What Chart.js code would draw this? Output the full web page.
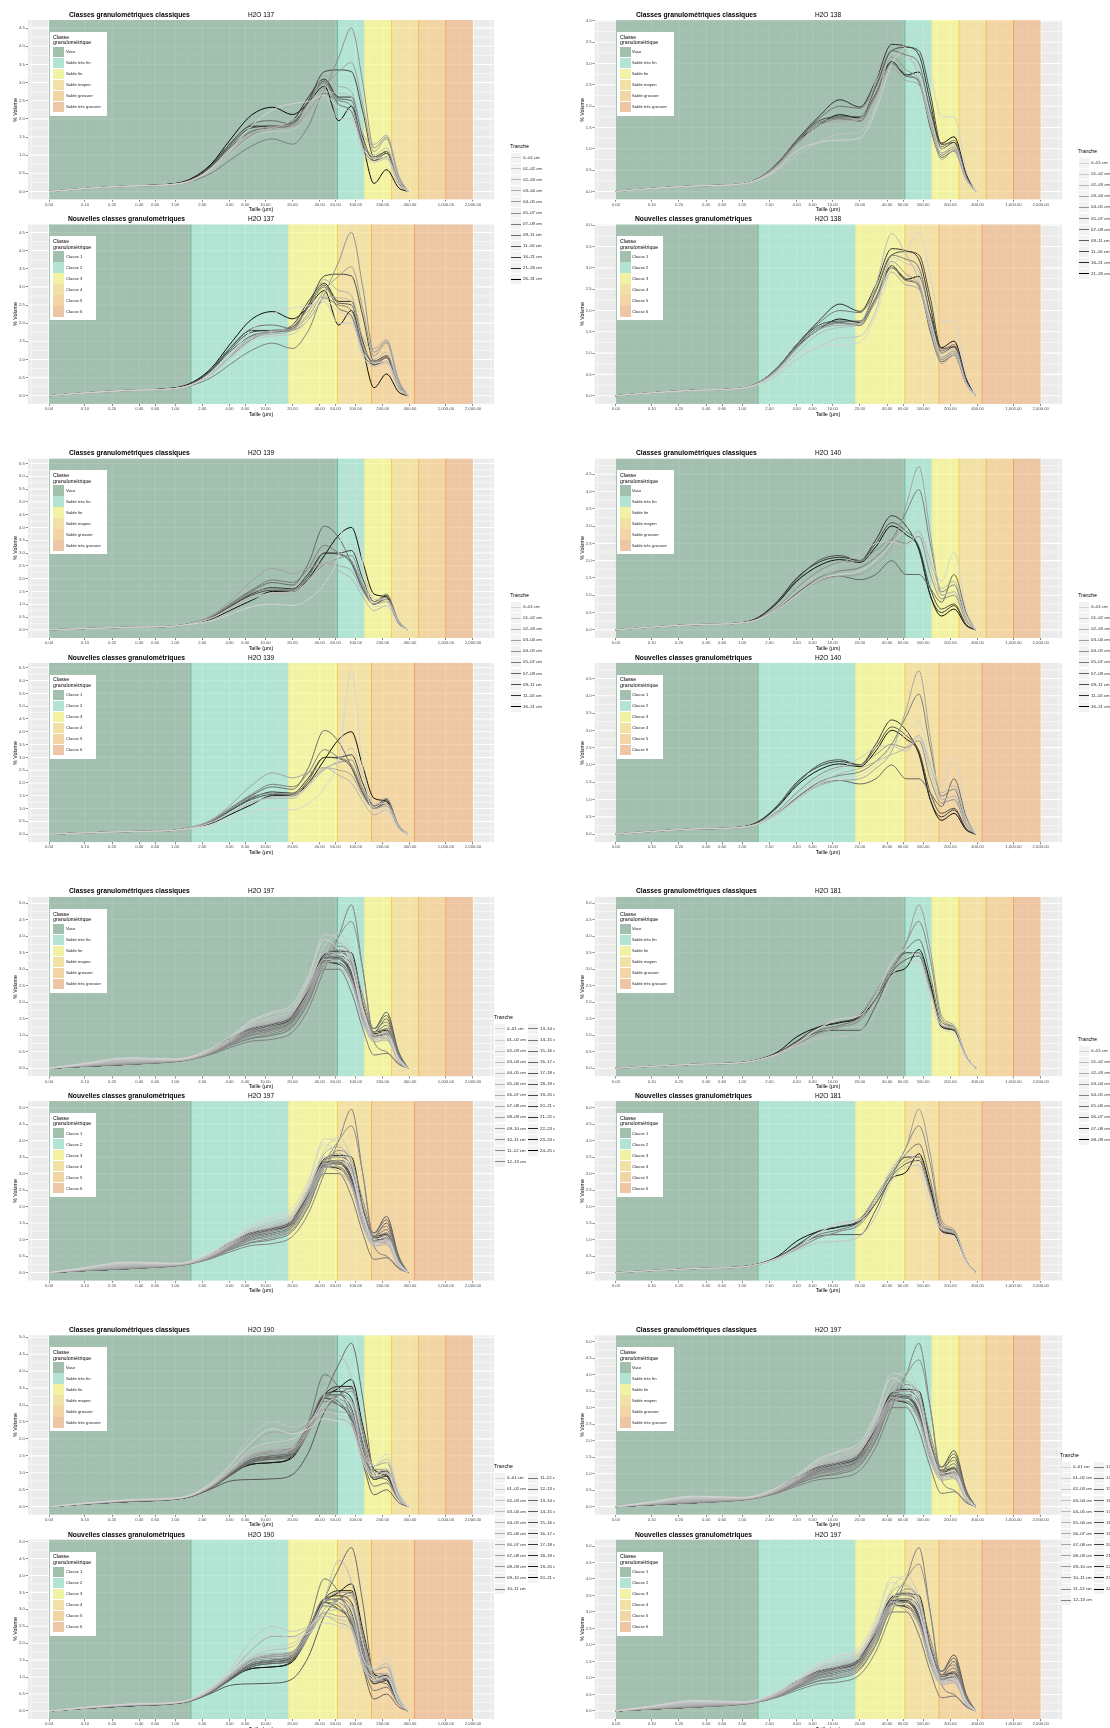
<!DOCTYPE html>
<html>
<head>
<meta charset="utf-8">
<script src="https://cdn.jsdelivr.net/npm/chart.js@4/dist/chart.umd.min.js"></script>
<style>
  body { margin: 0; width: 1110px; height: 1728px; background: #fff; position: relative; overflow: hidden;
         font-family: "Liberation Sans", Arial, sans-serif; }
  .grp { position: absolute; top: 0; width: 555px; height: 1728px; overflow: hidden; }
  .grp canvas { position: absolute; }
  .t { position: absolute; white-space: nowrap; font-size: 10px; line-height: 12px; transform-origin: 0 0; }
  .box { position: absolute; }
</style>
</head>
<body>
<script>
// grain sizes (µm) at which the curves were read
var sizes = [0.04, 0.1, 0.3, 1, 1.5, 2.5, 4, 7, 12, 20, 30, 45, 65, 90, 120, 160, 220, 300, 380];
var xTicks = [0.04, 0.1, 0.2, 0.4, 0.6, 1, 2, 4, 6, 10, 20, 40, 60, 100, 200, 400, 1000, 2000];

var classicLimits = [0.04, 63, 125, 250, 500, 1000, 2000];
var classicNames = ['Vase', 'Sable très fin', 'Sable fin', 'Sable moyen', 'Sable grossier', 'Sable très grossier'];
var newLimits = [0.04, 1.5, 18, 63, 150, 450, 2000];
var newNames = ['Classe 1', 'Classe 2', 'Classe 3', 'Classe 4', 'Classe 5', 'Classe 6'];

// % volume per tranche, one row per tranche, one value per size above
var h137 = [
  [0,0.08,0.15,0.2,0.3,0.62,1.1,1.8,2.25,2.42,2.48,2.65,2.3,2.1,1.2,0.9,0.95,0.25,0],
  [0,0.07,0.14,0.2,0.29,0.58,1.0,1.5,1.65,1.7,2.1,2.6,2.0,2.0,1.1,0.8,0.9,0.2,0],
  [0,0.08,0.15,0.2,0.3,0.6,1.05,1.6,1.75,1.95,2.35,2.75,2.7,2.6,1.4,1.0,1.2,0.3,0],
  [0,0.08,0.15,0.2,0.3,0.62,1.1,1.6,1.7,1.8,2.3,3.2,2.9,2.75,1.6,1.3,1.55,0.45,0],
  [0,0.08,0.15,0.2,0.3,0.6,1.1,1.6,1.8,1.85,2.2,2.9,3.3,3.55,2.4,1.1,1.45,0.4,0],
  [0,0.08,0.14,0.2,0.3,0.6,1.05,1.55,1.75,1.8,2.1,2.8,3.7,4.5,3.0,1.2,1.5,0.4,0],
  [0,0.07,0.14,0.2,0.28,0.5,0.85,1.25,1.45,1.3,1.8,2.7,2.5,2.35,1.3,0.95,1.1,0.25,0],
  [0,0.08,0.15,0.21,0.32,0.7,1.3,1.85,1.95,1.85,2.45,3.0,2.4,2.2,1.2,0.85,0.95,0.2,0],
  [0,0.08,0.15,0.2,0.31,0.68,1.2,1.65,1.75,1.85,2.5,3.05,2.55,2.5,1.4,0.9,1.1,0.25,0],
  [0,0.08,0.15,0.21,0.32,0.7,1.25,1.75,1.8,1.9,2.5,3.3,3.35,3.3,2.2,0.95,1.1,0.3,0],
  [0,0.08,0.15,0.21,0.33,0.72,1.3,1.8,1.8,1.95,2.6,3.1,2.6,2.6,1.5,0.85,1.05,0.25,0],
  [0,0.08,0.15,0.22,0.35,0.75,1.4,2.1,2.32,2.12,2.45,2.9,1.95,2.35,1.3,0.22,0.6,0.1,0]
];
var tr137 = ['0–01 cm','01–02 cm','02–03 cm','03–04 cm','04–05 cm','05–07 cm','07–09 cm','09–11 cm','11–16 cm','16–21 cm','21–26 cm','26–31 cm'];

var h138 = [
  [0,0.07,0.13,0.18,0.28,0.55,0.95,1.15,1.2,1.25,1.9,3.0,3.4,3.83,2.8,1.75,1.75,0.5,0],
  [0,0.06,0.12,0.17,0.26,0.5,0.85,1.15,1.35,1.4,2.0,3.25,3.1,2.9,1.8,1.0,1.1,0.3,0],
  [0,0.07,0.13,0.18,0.28,0.58,1.0,1.45,1.6,1.7,2.6,3.8,3.3,2.7,1.6,0.9,1.0,0.3,0],
  [0,0.07,0.13,0.18,0.29,0.62,1.1,1.55,1.65,1.7,2.2,2.9,2.6,2.5,1.6,0.75,0.95,0.3,0],
  [0,0.07,0.13,0.18,0.3,0.65,1.15,1.6,1.7,1.7,2.3,3.15,2.85,2.6,1.7,0.9,1.05,0.3,0],
  [0,0.07,0.13,0.18,0.3,0.64,1.12,1.55,1.7,1.65,2.25,3.0,2.75,2.55,1.55,0.85,1.0,0.3,0],
  [0,0.07,0.13,0.18,0.3,0.68,1.2,1.7,2.0,1.95,2.5,3.3,3.2,3.0,1.9,1.05,1.2,0.35,0],
  [0,0.07,0.13,0.18,0.3,0.66,1.18,1.6,1.72,1.65,2.3,3.0,2.7,2.6,1.5,0.8,0.95,0.28,0],
  [0,0.07,0.13,0.18,0.3,0.66,1.2,1.65,1.75,1.75,2.45,3.3,3.38,3.3,2.3,1.1,1.15,0.35,0],
  [0,0.07,0.13,0.18,0.3,0.68,1.2,1.75,2.15,1.98,2.6,3.45,3.4,3.2,2.1,1.0,1.15,0.35,0],
  [0,0.07,0.13,0.18,0.3,0.65,1.15,1.55,1.8,1.72,2.3,3.05,2.73,2.8,1.9,1.13,1.28,0.4,0]
];
var tr138 = ['0–01 cm','01–02 cm','02–03 cm','03–04 cm','04–05 cm','05–07 cm','07–09 cm','09–11 cm','11–16 cm','16–21 cm','21–26 cm'];

var h139 = [
  [0,0.05,0.1,0.15,0.22,0.35,0.6,0.9,1.0,0.95,1.2,1.8,3.0,6.38,2.6,0.9,0.95,0.2,0],
  [0,0.05,0.1,0.15,0.24,0.45,0.8,1.2,1.45,1.5,1.9,2.5,2.9,3.35,2.3,1.2,1.2,0.3,0],
  [0,0.05,0.1,0.15,0.24,0.45,0.8,1.25,1.4,1.4,1.9,2.6,2.3,2.0,1.3,0.75,0.95,0.25,0],
  [0,0.05,0.1,0.15,0.27,0.55,1.1,1.9,2.4,2.2,2.4,2.6,2.5,2.3,1.5,1.0,1.1,0.3,0],
  [0,0.05,0.1,0.15,0.25,0.5,0.95,1.45,1.6,1.55,2.0,2.55,2.8,2.9,1.8,1.1,1.4,0.35,0],
  [0,0.05,0.1,0.15,0.26,0.52,1.0,1.55,1.95,1.85,2.4,3.3,3.0,2.7,1.7,1.0,1.2,0.3,0],
  [0,0.05,0.1,0.15,0.25,0.5,0.95,1.5,1.85,1.75,2.6,4.05,3.6,2.6,1.6,1.0,1.2,0.3,0],
  [0,0.05,0.1,0.15,0.25,0.48,0.9,1.35,1.55,1.55,2.1,3.0,2.95,2.6,1.6,1.0,1.3,0.3,0],
  [0,0.05,0.1,0.15,0.25,0.5,0.9,1.4,1.65,1.6,2.2,3.0,3.0,3.1,2.0,1.1,1.35,0.3,0],
  [0,0.05,0.1,0.15,0.25,0.42,0.75,1.15,1.5,1.5,2.0,2.9,3.7,4.0,2.65,1.4,1.28,0.25,0]
];
var tr139 = ['0–01 cm','01–02 cm','02–03 cm','03–04 cm','04–05 cm','05–07 cm','07–09 cm','09–11 cm','11–16 cm','16–21 cm'];

var h140 = [
  [0,0.08,0.15,0.2,0.3,0.6,1.0,1.45,1.6,1.7,2.0,2.5,2.9,3.25,2.1,1.4,2.25,0.6,0],
  [0,0.08,0.15,0.2,0.3,0.65,1.15,1.6,1.9,2.2,2.5,2.55,2.4,2.8,1.8,1.0,1.1,0.3,0],
  [0,0.08,0.15,0.2,0.3,0.6,1.0,1.45,1.75,1.9,2.1,2.3,2.5,2.85,2.0,1.2,1.4,0.4,0],
  [0,0.08,0.15,0.2,0.3,0.6,1.0,1.4,1.55,1.6,1.9,2.4,3.6,4.72,2.8,1.0,1.1,0.3,0],
  [0,0.08,0.15,0.2,0.32,0.68,1.2,1.7,1.95,2.0,2.3,2.6,2.5,2.7,1.6,0.9,1.0,0.25,0],
  [0,0.08,0.15,0.2,0.3,0.62,1.05,1.5,1.7,1.8,2.1,2.6,3.4,4.05,2.5,1.1,1.3,0.3,0],
  [0,0.08,0.15,0.2,0.3,0.6,1.05,1.45,1.55,1.45,1.6,2.0,1.6,1.6,1.2,0.8,1.6,0.5,0],
  [0,0.08,0.15,0.21,0.35,0.82,1.45,2.0,2.15,2.0,2.5,3.1,2.85,2.4,1.2,0.6,0.75,0.15,0],
  [0,0.08,0.15,0.21,0.36,0.85,1.5,1.95,2.1,2.0,2.6,3.3,3.0,2.3,1.0,0.5,0.7,0.15,0],
  [0,0.08,0.15,0.2,0.35,0.8,1.4,1.85,2.03,1.95,2.4,3.0,2.75,2.35,1.0,0.4,0.6,0.12,0]
];
var tr140 = ['0–01 cm','01–02 cm','02–03 cm','03–04 cm','04–05 cm','05–07 cm','07–09 cm','09–11 cm','11–16 cm','16–21 cm'];

var h197 = [
  [0,0.15,0.32,0.28,0.35,0.6,0.95,1.45,1.7,1.95,2.8,3.9,3.6,3.0,1.8,1.0,1.1,0.3,0],
  [0,0.14,0.3,0.27,0.34,0.58,0.9,1.4,1.65,1.85,2.7,4.05,3.9,3.1,1.7,0.9,1.0,0.3,0],
  [0,0.12,0.28,0.26,0.33,0.55,0.88,1.35,1.55,1.8,2.6,3.7,4.1,3.4,1.8,0.9,1.0,0.25,0],
  [0,0.12,0.25,0.25,0.32,0.55,0.85,1.3,1.5,1.75,2.5,3.5,3.5,3.0,1.6,0.85,0.95,0.25,0],
  [0,0.1,0.22,0.24,0.3,0.52,0.85,1.3,1.45,1.7,2.45,3.3,3.2,2.7,1.5,0.8,0.9,0.2,0],
  [0,0.1,0.2,0.24,0.3,0.52,0.82,1.25,1.4,1.7,2.4,3.2,3.05,2.6,1.4,0.8,0.85,0.2,0],
  [0,0.09,0.18,0.23,0.3,0.5,0.8,1.2,1.38,1.65,2.5,3.6,3.8,3.3,1.8,0.9,1.0,0.25,0],
  [0,0.08,0.16,0.23,0.3,0.5,0.8,1.15,1.35,1.6,2.3,3.2,3.4,3.0,1.7,0.95,1.05,0.3,0],
  [0,0.08,0.15,0.22,0.29,0.48,0.78,1.1,1.3,1.55,2.2,3.1,3.3,3.0,1.8,1.0,1.1,0.3,0],
  [0,0.07,0.14,0.22,0.29,0.48,0.75,1.05,1.25,1.5,2.3,3.3,3.2,2.6,1.5,0.9,1.0,0.25,0],
  [0,0.07,0.13,0.22,0.28,0.46,0.72,1.0,1.15,1.4,2.2,3.4,3.6,3.2,2.0,1.1,1.2,0.35,0],
  [0,0.07,0.13,0.21,0.28,0.45,0.7,0.98,1.1,1.35,2.1,3.3,4.0,4.45,3.0,1.0,0.9,0.25,0],
  [0,0.06,0.12,0.21,0.27,0.44,0.68,0.92,1.05,1.3,2.0,3.2,3.7,3.4,2.2,1.2,1.4,0.4,0],
  [0,0.06,0.12,0.2,0.27,0.42,0.62,0.82,0.88,1.1,1.8,3.0,4.0,4.95,3.0,0.8,0.5,0.15,0],
  [0,0.06,0.12,0.2,0.27,0.44,0.68,0.9,1.0,1.25,2.0,3.0,3.0,2.3,1.2,0.4,0.45,0.12,0],
  [0,0.06,0.12,0.21,0.28,0.46,0.72,1.0,1.15,1.4,2.2,3.25,3.3,2.8,1.6,1.1,1.3,0.35,0],
  [0,0.06,0.12,0.21,0.28,0.46,0.74,1.05,1.2,1.45,2.3,3.3,3.3,2.9,1.7,1.2,1.6,0.45,0],
  [0,0.06,0.12,0.22,0.29,0.48,0.76,1.08,1.25,1.5,2.3,3.2,3.2,2.7,1.5,1.1,1.5,0.4,0],
  [0,0.06,0.12,0.22,0.29,0.5,0.8,1.12,1.3,1.55,2.4,3.4,3.5,3.2,1.9,1.2,1.7,0.5,0],
  [0,0.06,0.12,0.22,0.3,0.52,0.82,1.15,1.3,1.5,2.3,3.3,3.4,3.1,1.8,1.0,1.2,0.3,0],
  [0,0.06,0.12,0.22,0.3,0.52,0.84,1.18,1.32,1.55,2.4,3.3,3.3,2.9,1.7,1.05,1.1,0.3,0],
  [0,0.06,0.12,0.23,0.31,0.54,0.86,1.2,1.35,1.6,2.45,3.35,3.35,2.9,1.6,0.95,1.05,0.3,0],
  [0,0.06,0.12,0.23,0.31,0.54,0.86,1.2,1.33,1.55,2.4,3.2,3.15,2.7,1.5,0.9,1.0,0.25,0],
  [0,0.06,0.12,0.24,0.32,0.55,0.88,1.2,1.3,1.5,2.4,3.45,3.55,3.5,2.0,1.1,1.15,0.3,0],
  [0,0.06,0.12,0.25,0.32,0.56,0.9,1.2,1.3,1.6,2.5,3.25,3.3,2.8,1.5,1.0,1.0,0.3,0]
];
var tr197 = ['0–01 cm','01–02 cm','02–03 cm','03–04 cm','04–05 cm','05–06 cm','06–07 cm','07–08 cm','08–09 cm',
  '09–10 cm','10–11 cm','11–12 cm','12–13 cm','13–14 cm','14–15 cm','15–16 cm','16–17 cm','17–18 cm','18–19 cm',
  '19–20 cm','20–21 cm','21–22 cm','22–23 cm','23–24 cm','24–25 cm'];

var h181 = [
  [0,0.06,0.12,0.17,0.25,0.45,0.75,1.2,1.5,1.6,2.2,3.2,3.6,3.2,2.0,1.2,1.05,0.3,0],
  [0,0.06,0.12,0.17,0.24,0.42,0.68,0.9,0.95,1.1,1.7,2.8,3.2,3.25,2.3,1.3,1.2,0.35,0],
  [0,0.06,0.12,0.17,0.25,0.45,0.75,1.2,1.5,1.65,2.3,3.0,3.4,3.5,2.4,1.3,1.25,0.35,0],
  [0,0.06,0.12,0.17,0.24,0.44,0.72,1.05,1.25,1.5,2.3,3.1,3.8,4.95,3.6,1.6,1.3,0.35,0],
  [0,0.06,0.12,0.17,0.24,0.44,0.72,1.05,1.25,1.45,2.1,2.9,3.8,4.45,3.3,1.5,1.25,0.35,0],
  [0,0.06,0.12,0.17,0.25,0.46,0.78,1.15,1.3,1.55,2.2,3.0,3.6,3.9,2.8,1.4,1.25,0.35,0],
  [0,0.06,0.12,0.17,0.25,0.45,0.8,1.1,1.15,1.15,1.9,2.9,3.3,3.4,2.4,1.3,1.2,0.35,0],
  [0,0.06,0.12,0.17,0.25,0.47,0.82,1.25,1.4,1.6,2.3,3.0,3.5,3.5,2.5,1.3,1.15,0.35,0],
  [0,0.06,0.12,0.18,0.26,0.5,0.95,1.25,1.38,1.55,2.1,2.85,3.05,3.6,2.6,1.25,1.15,0.35,0]
];
var tr181 = ['0–01 cm','01–02 cm','02–03 cm','03–04 cm','04–05 cm','05–06 cm','06–07 cm','07–08 cm','08–09 cm'];

var h190 = [
  [0,0.1,0.2,0.25,0.35,0.7,1.2,1.9,2.3,2.15,2.3,2.6,2.5,2.3,1.3,0.9,1.0,0.25,0],
  [0,0.1,0.2,0.25,0.34,0.65,1.1,1.7,1.9,2.0,2.4,3.0,3.2,3.0,1.6,1.2,1.55,0.45,0],
  [0,0.1,0.19,0.25,0.34,0.68,1.2,2.1,2.5,2.35,2.5,2.8,2.7,2.5,1.4,1.0,1.1,0.3,0],
  [0,0.1,0.19,0.24,0.33,0.62,1.05,1.6,1.8,1.9,2.4,3.3,4.45,3.8,2.0,1.0,1.0,0.3,0],
  [0,0.09,0.18,0.24,0.33,0.62,1.05,1.55,1.7,1.75,2.3,2.9,3.0,3.1,2.0,1.2,1.4,0.4,0],
  [0,0.09,0.18,0.24,0.33,0.6,1.0,1.5,1.65,1.7,2.2,2.8,2.6,2.4,1.4,0.9,1.0,0.25,0],
  [0,0.09,0.18,0.24,0.33,0.64,1.1,1.8,2.2,2.2,2.45,2.9,2.8,2.7,1.5,0.9,1.0,0.3,0],
  [0,0.09,0.17,0.24,0.32,0.6,1.0,1.5,1.6,1.65,2.3,3.2,3.5,3.45,2.2,1.2,1.3,0.35,0],
  [0,0.09,0.17,0.23,0.32,0.58,0.98,1.45,1.55,1.6,2.2,3.0,3.3,3.4,2.3,1.1,1.1,0.3,0],
  [0,0.08,0.16,0.23,0.32,0.6,1.02,1.5,1.6,1.7,2.4,3.3,3.2,2.8,1.6,0.9,1.0,0.3,0],
  [0,0.08,0.16,0.23,0.31,0.58,0.95,1.4,1.5,1.6,2.3,3.2,3.3,3.1,1.8,1.0,1.1,0.3,0],
  [0,0.08,0.16,0.23,0.31,0.57,0.95,1.35,1.45,1.55,2.25,3.1,3.0,2.7,1.5,0.85,0.95,0.25,0],
  [0,0.08,0.15,0.23,0.31,0.58,1.0,1.5,1.65,1.75,2.5,3.9,3.5,2.6,1.4,0.6,0.7,0.2,0],
  [0,0.08,0.15,0.22,0.3,0.55,0.9,1.3,1.4,1.5,2.2,3.3,4.2,4.82,3.2,1.0,0.8,0.25,0],
  [0,0.08,0.15,0.22,0.3,0.55,0.9,1.3,1.4,1.5,2.3,3.2,3.1,2.5,1.3,0.35,0.5,0.12,0],
  [0,0.08,0.15,0.22,0.3,0.52,0.75,0.8,0.82,0.95,1.6,2.8,3.3,3.5,2.2,0.8,0.9,0.25,0],
  [0,0.08,0.15,0.22,0.3,0.56,0.92,1.35,1.45,1.6,2.4,3.3,3.3,2.9,1.7,0.9,1.0,0.3,0],
  [0,0.08,0.15,0.23,0.31,0.58,0.96,1.4,1.5,1.65,2.4,3.2,3.0,2.6,1.5,0.8,0.9,0.25,0],
  [0,0.08,0.15,0.23,0.31,0.58,0.95,1.35,1.45,1.55,2.4,3.3,3.4,3.2,1.9,1.0,1.05,0.3,0],
  [0,0.08,0.15,0.24,0.32,0.6,0.95,1.25,1.3,1.5,2.4,3.3,3.55,3.55,2.2,1.1,0.95,0.25,0],
  [0,0.08,0.15,0.24,0.32,0.6,0.95,1.25,1.3,1.45,2.3,3.2,3.5,3.75,2.4,1.1,0.9,0.25,0]
];
var tr190 = ['0–01 cm','01–02 cm','02–03 cm','03–04 cm','04–05 cm','05–06 cm','06–07 cm','07–08 cm','08–09 cm',
  '09–10 cm','10–11 cm','11–12 cm','12–13 cm','13–14 cm','14–15 cm','15–16 cm','16–17 cm','17–18 cm','18–19 cm',
  '19–20 cm','20–21 cm'];

// styles
var bandFills = ['rgba(115,162,135,0.6)', 'rgba(141,222,195,0.6)', 'rgba(247,247,118,0.6)',
                 'rgba(247,218,120,0.6)', 'rgba(245,198,118,0.6)', 'rgba(236,173,118,0.6)'];
var keyFills = ['#a3bfae', '#b3e3d3', '#f2f2a5', '#f2e1a6', '#f1d5a5', '#ecc6a5'];
var bandEdges = [null, '#6fc19d', '#e2eea0', '#f0cf5a', '#f1b95e', '#eea66a'];

var ROW = 438.4, PLOT_H = 179.6;
var GEO = [{left: 27.8, w: 466.4}, {left: 594.5, w: 467.5}];

var panels = [
  {name: 'H2O 137', curves: h137, tranches: tr137, row: 0, col: 0, split: 0},
  {name: 'H2O 138', curves: h138, tranches: tr138, row: 0, col: 1, split: 0},
  {name: 'H2O 139', curves: h139, tranches: tr139, row: 1, col: 0, split: 0},
  {name: 'H2O 140', curves: h140, tranches: tr140, row: 1, col: 1, split: 0},
  {name: 'H2O 197', curves: h197, tranches: tr197, row: 2, col: 0, split: 13},
  {name: 'H2O 181', curves: h181, tranches: tr181, row: 2, col: 1, split: 0},
  {name: 'H2O 190', curves: h190, tranches: tr190, row: 3, col: 0, split: 11},
  {name: 'H2O 197', curves: h197, tranches: tr197, row: 3, col: 1, split: 13}
];

Chart.defaults.font.family = '"Liberation Sans", Arial, sans-serif';
Chart.defaults.animation = false;

var groups = [0, 1].map(function (g) {
  var d = document.createElement('div');
  d.className = 'grp';
  d.style.left = (g * 555) + 'px';
  document.body.appendChild(d);
  return d;
});

// light grey for the first tranche, black for the last
function grey(i, n) {
  var v = Math.round(212 * Math.pow(1 - i / (n - 1), 0.7));
  return 'rgb(' + v + ',' + v + ',' + v + ')';
}

function fmtX(v) {
  return Number(v).toLocaleString('en-US', {minimumFractionDigits: 2, maximumFractionDigits: 2});
}

// text helper: real text, drawn at 10px and scaled down
function txt(parent, s, x, y, size, anchor, opts) {
  opts = opts || {};
  var d = document.createElement('div');
  d.className = 't';
  d.textContent = s;
  d.style.left = x + 'px';
  d.style.top = y + 'px';
  d.style.color = opts.color || '#000';
  if (opts.bold) d.style.fontWeight = 'bold';
  var k = size / 10;
  var tx = anchor === 'center' ? '-50%' : (anchor === 'right' ? '-100%' : '0');
  var rot = opts.rotate ? ' rotate(-90deg)' : '';
  d.style.transform = 'scale(' + k + ')' + rot + ' translate(' + tx + ',-50%)';
  parent.appendChild(d);
  return d;
}

function rect(parent, x, y, w, h, bg) {
  var d = document.createElement('div');
  d.className = 'box';
  d.style.cssText += 'left:' + x + 'px;top:' + y + 'px;width:' + w + 'px;height:' + h + 'px;background:' + bg + ';';
  parent.appendChild(d);
  return d;
}

function makePanelPlugin(limits, yMajor, yMinor) {
  var l10 = Math.log10;
  var xMinor = [];
  var step0 = l10(xTicks[1]) - l10(xTicks[0]);
  var ext = [l10(xTicks[0]) - step0].concat(xTicks.map(l10), [l10(xTicks[xTicks.length - 1]) + step0]);
  for (var i = 0; i < ext.length - 1; i++) xMinor.push(Math.pow(10, (ext[i] + ext[i + 1]) / 2));
  return {
    id: 'panel',
    beforeDatasetsDraw: function (chart) {
      var ctx = chart.ctx, a = chart.chartArea, x = chart.scales.x, y = chart.scales.y;
      ctx.save();
      ctx.beginPath();
      ctx.rect(a.left, a.top, a.right - a.left, a.bottom - a.top);
      ctx.clip();
      ctx.fillStyle = '#EBEBEB';
      ctx.fillRect(a.left, a.top, a.right - a.left, a.bottom - a.top);
      ctx.strokeStyle = '#fff';
      function vl(v, w) {
        var p = x.getPixelForValue(v);
        ctx.lineWidth = w; ctx.beginPath(); ctx.moveTo(p, a.top); ctx.lineTo(p, a.bottom); ctx.stroke();
      }
      function hl(v, w) {
        var p = y.getPixelForValue(v);
        ctx.lineWidth = w; ctx.beginPath(); ctx.moveTo(a.left, p); ctx.lineTo(a.right, p); ctx.stroke();
      }
      xMinor.forEach(function (v) { vl(v, 0.55); });
      yMinor.forEach(function (v) { hl(v, 0.55); });
      xTicks.forEach(function (v) { vl(v, 1.1); });
      yMajor.forEach(function (v) { hl(v, 1.1); });
      for (var b = 0; b < limits.length - 1; b++) {
        var x0 = x.getPixelForValue(limits[b]), x1 = x.getPixelForValue(limits[b + 1]);
        ctx.fillStyle = bandFills[b];
        ctx.fillRect(x0, a.top, x1 - x0, a.bottom - a.top);
      }
      for (b = 1; b < limits.length - 1; b++) {
        var xe = x.getPixelForValue(limits[b]);
        ctx.strokeStyle = bandEdges[b];
        ctx.lineWidth = 1;
        ctx.beginPath(); ctx.moveTo(xe, a.top); ctx.lineTo(xe, a.bottom); ctx.stroke();
      }
      ctx.restore();
    }
  };
}

function drawChart(p, plotTop, classic) {
  var geo = GEO[p.col], grp = groups[p.col], gx = p.col * 555;
  var limits = classic ? classicLimits : newLimits;
  var n = p.curves.length;
  var m = 0;
  p.curves.forEach(function (c) { c.forEach(function (v) { if (v > m) m = v; }); });
  var yMin = -0.05 * m, yMax = 1.05 * m;
  var yMajor = [], yMinor = [];
  for (var v = 0; v <= yMax + 1e-9; v += 0.5) yMajor.push(Math.round(v * 10) / 10);
  for (v = 0.25; v <= yMax; v += 0.5) yMinor.push(v);

  var spread = Math.pow(50000, 0.05);
  var xMin = 0.04 / spread, xMax = 2000 * spread;

  var yAxW = 16, xAxH = 9;
  var cLeft = Math.round(geo.left - yAxW);
  var yw = geo.left - cLeft;
  var cTop = Math.round(plotTop - 5);
  var pt = plotTop - cTop;
  var W = Math.ceil(yw + geo.w), H = Math.ceil(pt + PLOT_H + xAxH);

  var cv = document.createElement('canvas');
  cv.width = W; cv.height = H;
  cv.style.left = (cLeft - gx) + 'px';
  cv.style.top = cTop + 'px';
  cv.style.width = W + 'px'; cv.style.height = H + 'px';
  grp.appendChild(cv);

  new Chart(cv.getContext('2d'), {
    type: 'line',
    data: {
      datasets: p.curves.map(function (c, i) {
        return {
          label: p.tranches[i],
          data: sizes.map(function (s, k) { return {x: s, y: c[k]}; }),
          borderColor: grey(i, n),
          borderWidth: 0.95,
          pointRadius: 0,
          fill: false,
          cubicInterpolationMode: 'monotone'
        };
      })
    },
    options: {
      responsive: false,
      devicePixelRatio: 1,
      animation: false,
      events: [],
      layout: {padding: {top: pt, left: 0, right: W - yw - geo.w, bottom: H - pt - PLOT_H - xAxH}},
      plugins: {legend: {display: false}, tooltip: {enabled: false}},
      scales: {
        x: {
          type: 'logarithmic', min: xMin, max: xMax,
          afterBuildTicks: function (s) { s.ticks = xTicks.map(function (t) { return {value: t}; }); },
          afterFit: function (s) { s.height = xAxH; },
          ticks: {autoSkip: false, maxRotation: 0, minRotation: 0, padding: 0.5, color: '#4D4D4D',
                  font: {size: 4.2}, callback: function (t) { return fmtX(t); }},
          grid: {drawOnChartArea: false, tickLength: 2, tickColor: '#333', lineWidth: 0.6},
          border: {display: false}
        },
        y: {
          type: 'linear', min: yMin, max: yMax,
          afterBuildTicks: function (s) { s.ticks = yMajor.map(function (t) { return {value: t}; }); },
          afterFit: function (s) { s.width = yw; },
          ticks: {padding: 1, color: '#4D4D4D', font: {size: 4.2},
                  callback: function (t) { return Number(t).toFixed(1); }},
          grid: {drawOnChartArea: false, tickLength: 2, tickColor: '#333', lineWidth: 0.6},
          border: {display: false}
        }
      }
    },
    plugins: [makePanelPlugin(limits, yMajor, yMinor)]
  });

  // titles and axis titles
  var lx = geo.left - gx;
  if (classic) {
    txt(grp, 'Classes granulométriques classiques', lx + 41.3, plotTop - 5.5, 6.75, 'left', {bold: true});
    txt(grp, p.name, lx + 220, plotTop - 5.5, 6.5, 'left');
  } else {
    txt(grp, 'Nouvelles classes granulométriques', lx + 40, plotTop - 5, 6.75, 'left', {bold: true});
    txt(grp, p.name, lx + 220.5, plotTop - 5, 6.5, 'left');
  }
  txt(grp, 'Taille (µm)', lx + geo.w / 2, plotTop + PLOT_H + 9.6, 5.3, 'center');
  txt(grp, '% Volume', lx - 12.8, plotTop + PLOT_H / 2, 5.3, 'center', {rotate: true});

  // class legend inside the panel
  var names = classic ? classicNames : newNames;
  var bx = lx + 22.2, by = plotTop + 12, bw = classic ? 57 : 46;
  rect(grp, bx, by, bw, 84, '#fff');
  txt(grp, 'Classe', bx + 3.3, by + 4.7, 5.3, 'left');
  txt(grp, 'granulométrique', bx + 3.3, by + 10.3, 5.3, 'left');
  names.forEach(function (nm, i) {
    rect(grp, bx + 3.3, by + 15 + i * 11, 10.7, 10.4, keyFills[i]);
    txt(grp, nm, bx + 15.7, by + 15 + i * 11 + 5.4, 4.2, 'left', {color: '#1a1a1a'});
  });
}

function trancheLegend(p) {
  var geo = GEO[p.col], grp = groups[p.col], gx = p.col * 555;
  var rows = p.split ? p.split : p.tranches.length;
  var rowTop = p.row * ROW;
  var ty = rowTop + 145.5 + (12 - rows) * 5.53;
  var tx;
  if (p.split) tx = (p.col === 0 ? 494 : 1060) - gx;
  else tx = geo.left + geo.w + 16 - gx;
  txt(grp, 'Tranche', tx, ty, 5.2, 'left');
  var n = p.tranches.length;
  p.tranches.forEach(function (t, i) {
    var c = p.split && i >= p.split ? 1 : 0;
    var r = c ? i - p.split : i;
    var kx = tx + 1 + c * 32.5, ky = ty + 12.2 + r * 11.06;
    rect(grp, kx, ky - 5, 10, 10, '#F2F2F2');
    rect(grp, kx, ky - 0.5, 10, 1, grey(i, n));
    txt(grp, t, kx + 12, ky, 4.3, 'left', {color: '#1a1a1a'});
  });
}

panels.forEach(function (p) {
  var rowTop = p.row * ROW;
  drawChart(p, rowTop + 20, true);
  drawChart(p, rowTop + 224.3, false);
  trancheLegend(p);
});
</script>
</body>
</html>
